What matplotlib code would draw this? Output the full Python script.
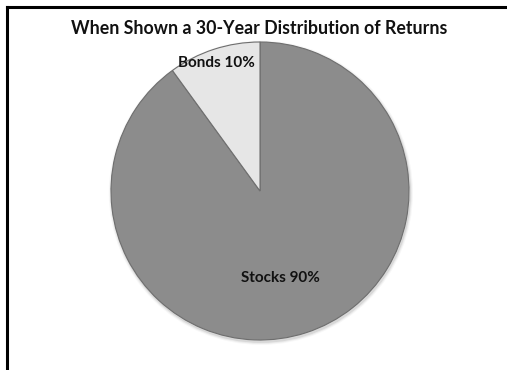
import matplotlib.pyplot as plt
from matplotlib.lines import Line2D
from matplotlib.patches import Circle

labels = ['Stocks 90%', 'Bonds 10%']
shares = [90, 10]
colors = ['#8c8c8c', '#e6e6e6']

W, H = 507, 370
fig = plt.figure(figsize=(W / 100, H / 100), dpi=100)
fig.patch.set_facecolor('white')

# frame lines (top and left)
fig.add_artist(Line2D([7 / W, 1], [1 - 6.5 / H, 1 - 6.5 / H], color='black', lw=2.2))
fig.add_artist(Line2D([7 / W, 7 / W], [0, 1 - 6.5 / H], color='black', lw=2.2))

fig.text(259 / W, 1 - 28 / H, 'When Shown a 30-Year Distribution of Returns',
         ha='center', va='center', fontsize=12.8, fontweight='bold',
         family='Lato', color='#111111')

cx, cy, r = 260, 191, 149
ax = fig.add_axes([(cx - r) / W, (H - cy - r) / H, 2 * r / W, 2 * r / H])

# soft shadow
for i, a in enumerate([0.08, 0.05, 0.03]):
    ax.add_patch(Circle((0.006, -0.012), 1 + 0.007 * (i + 1), color='black',
                        alpha=a, lw=0, clip_on=False))

wedges, _ = ax.pie(shares, colors=colors, startangle=90, counterclock=False,
                   radius=1, wedgeprops=dict(edgecolor='#6e6e6e', linewidth=0.8))
for w in wedges:
    w.set_clip_on(False)
ax.set_xlim(-1, 1)
ax.set_ylim(-1, 1)
ax.set_aspect('equal')
ax.axis('off')

ax.text(0.134, -0.584, labels[0], ha='center', va='center', fontsize=11,
        fontweight='bold', family='Lato', color='#111111')
ax.text(-0.295, 0.86, labels[1], ha='center', va='center', fontsize=11,
        fontweight='bold', family='Lato', color='#111111')

fig.savefig('out.png', dpi=100)
